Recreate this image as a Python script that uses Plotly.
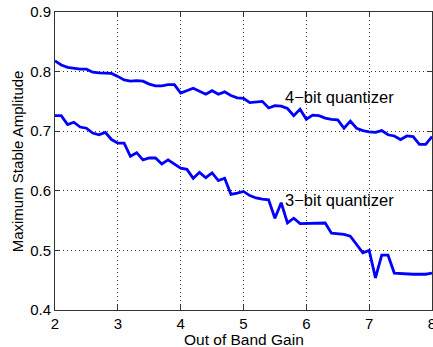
import plotly.graph_objects as go

gain = [round(2 + 0.1 * i, 1) for i in range(61)]

amp_4bit = [0.818, 0.811, 0.807, 0.805, 0.804, 0.804, 0.799, 0.798, 0.798, 0.797,
            0.792, 0.786, 0.784, 0.785, 0.784, 0.779, 0.776, 0.776, 0.778, 0.778,
            0.764, 0.768, 0.772, 0.767, 0.762, 0.768, 0.762, 0.766, 0.760, 0.756,
            0.755, 0.748, 0.749, 0.750, 0.739, 0.743, 0.742, 0.738, 0.726, 0.737,
            0.720, 0.727, 0.726, 0.722, 0.720, 0.719, 0.705, 0.717, 0.705, 0.701,
            0.699, 0.698, 0.701, 0.694, 0.692, 0.686, 0.692, 0.691, 0.678, 0.678,
            0.691]

amp_3bit = [0.726, 0.726, 0.711, 0.715, 0.707, 0.705, 0.697, 0.694, 0.698, 0.686,
            0.680, 0.680, 0.658, 0.664, 0.652, 0.655, 0.655, 0.645, 0.652, 0.645,
            0.638, 0.636, 0.621, 0.631, 0.622, 0.630, 0.617, 0.621, 0.594, 0.596,
            0.599, 0.592, 0.588, 0.586, 0.585, 0.554, 0.580, 0.546, 0.554, 0.545,
            0.545, 0.545, 0.546, 0.546, 0.529, 0.528, 0.527, 0.524, 0.509, 0.496,
            0.500, 0.454, 0.492, 0.492, 0.462, 0.461, 0.461, 0.460, 0.460, 0.460,
            0.462]

x_ticks = [2, 3, 4, 5, 6, 7, 8]
y_ticks = [0.4, 0.5, 0.6, 0.7, 0.8, 0.9]
y_tick_text = ["0.4", "0.5", "0.6", "0.7", "0.8", "0.9"]

font = "Liberation Sans, Arial, sans-serif"

fig = go.Figure()
for ys in (amp_4bit, amp_3bit):
    fig.add_trace(go.Scatter(x=gain, y=ys, mode="lines",
                             line=dict(color="#0000ff", width=2.8),
                             showlegend=False, hoverinfo="skip"))

fig.add_annotation(x=5.63, y=0.758, text="4\u2212bit quantizer", showarrow=False,
                   xanchor="left", yanchor="middle",
                   font=dict(family=font, size=16.5, color="black"))
fig.add_annotation(x=5.63, y=0.585, text="3\u2212bit quantizer", showarrow=False,
                   xanchor="left", yanchor="middle",
                   font=dict(family=font, size=16.5, color="black"))

# axis titles as paper-positioned annotations
fig.add_annotation(x=0.5, y=-0.064, xref="paper", yref="paper",
                   text="Out of Band Gain", showarrow=False,
                   xanchor="center", yanchor="top",
                   font=dict(family=font, size=15.5, color="black"))
fig.add_annotation(x=-0.1, y=0.5, xref="paper", yref="paper",
                   text="Maximum Stable Amplitude", showarrow=False, textangle=-90,
                   xanchor="center", yanchor="middle",
                   font=dict(family=font, size=15, color="black"))

axis_common = dict(showline=True, linecolor="#333333", linewidth=1, mirror="ticks",
                   ticks="inside", ticklen=5, tickcolor="#333333",
                   showgrid=True, gridcolor="#333333", griddash="1px,3px", gridwidth=1,
                   zeroline=False, automargin=False, ticklabeloverflow="allow",
                   tickfont=dict(family=font, size=15, color="black"))

fig.update_xaxes(range=[2, 8], tickvals=x_ticks, **axis_common)
fig.update_yaxes(range=[0.4, 0.9], tickvals=y_ticks, ticktext=y_tick_text, **axis_common)

fig.update_layout(width=433, height=347,
                  margin=dict(l=55, r=1, t=12, b=37, autoexpand=False),
                  paper_bgcolor="white", plot_bgcolor="white",
                  font=dict(family=font))

# remove the browser's default 8px body margin so the figure fills the window
fig.write_html("out.html",
               config={"displayModeBar": False},
               post_script="document.body.style.margin='0';"
                           "document.body.style.overflow='hidden';")
